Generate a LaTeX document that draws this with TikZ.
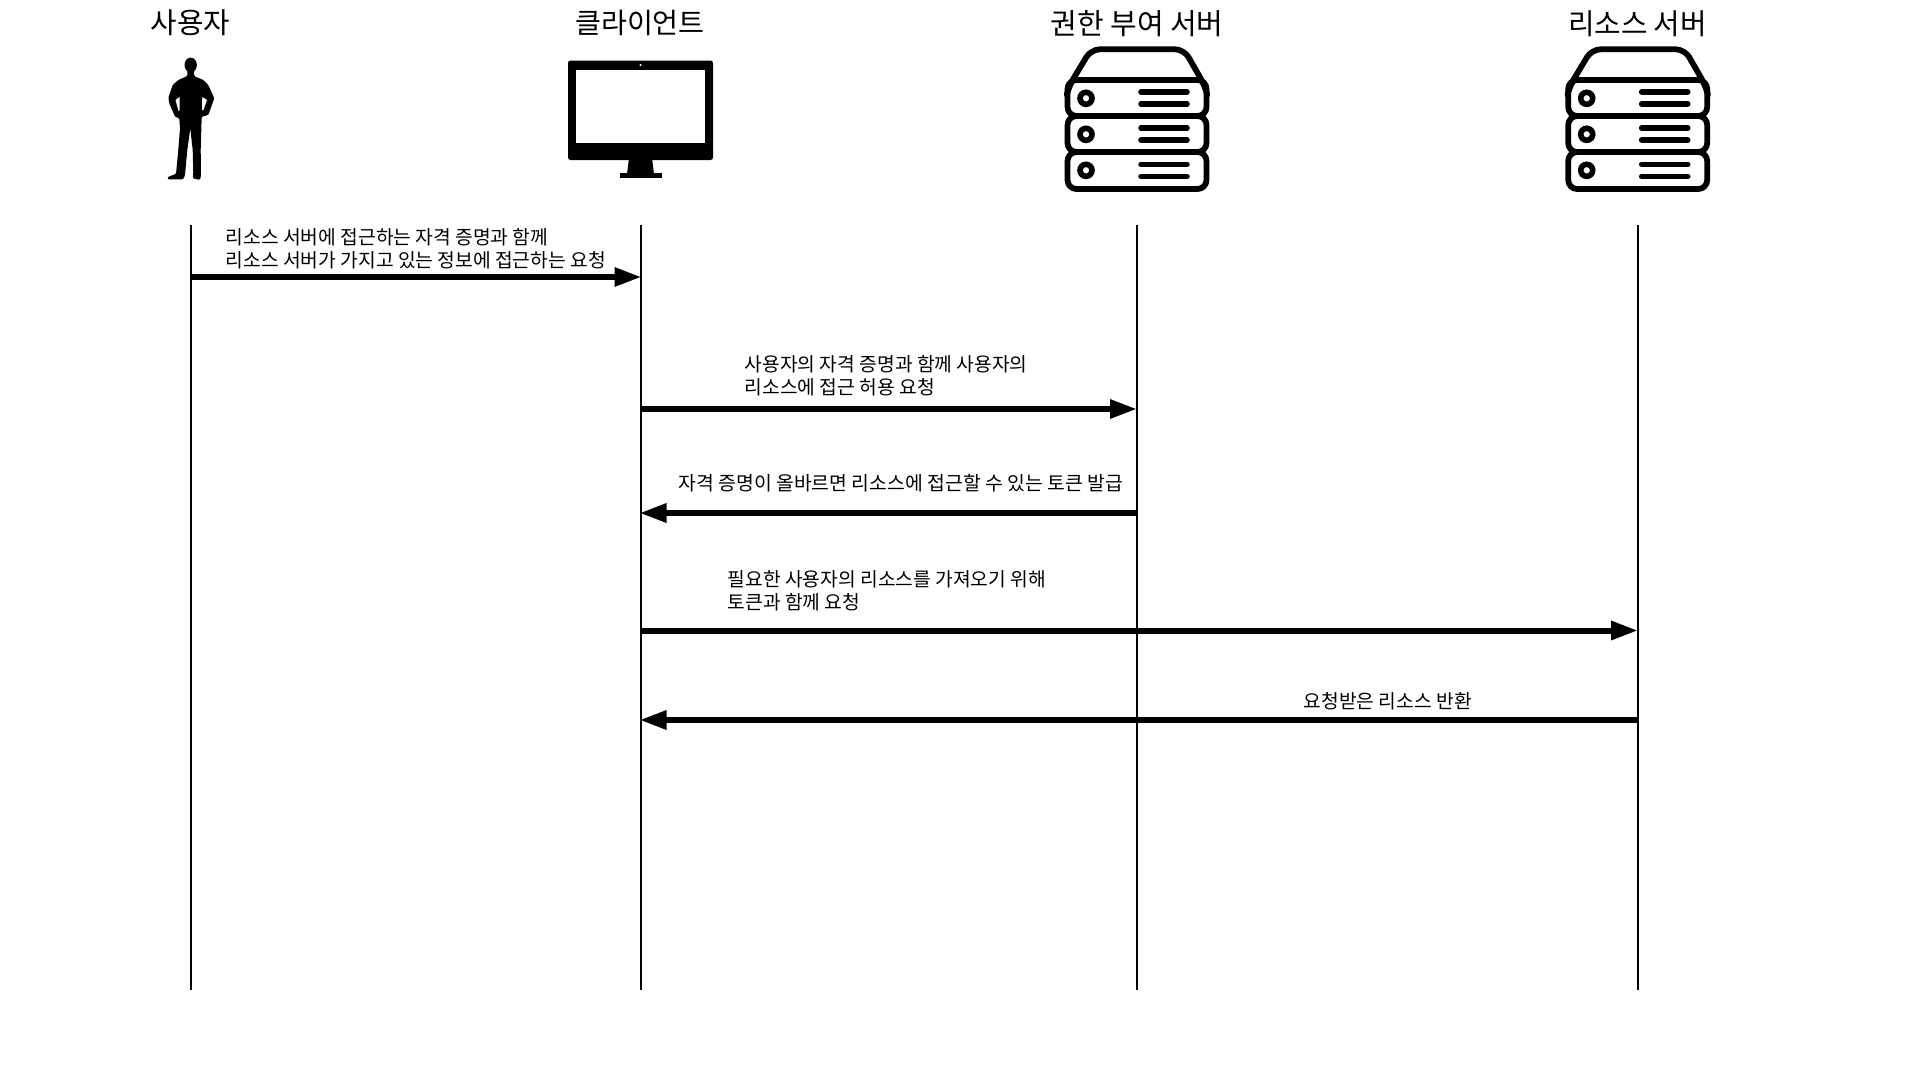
\documentclass[tikz,border=0pt]{standalone}
\usepackage{fontspec}
\setmainfont{Noto Sans CJK KR}
\usetikzlibrary{arrows.meta}
\tikzset{
  lifeline/.style={line width=1.6pt,black},
  msg/.style={line width=6pt,black,-{Triangle[length=27pt,width=18pt]},shorten >=0pt},
  msgtext/.style={anchor=west,align=left,inner sep=0pt,font=\fontsize{19.25pt}{23pt}\selectfont},
  title/.style={anchor=center,inner sep=0pt,font=\fontsize{28.8pt}{32pt}\selectfont},
  srv/.style={line width=5.8pt,black,rounded corners=9pt,line join=round},
  srvbar/.style={line width=5.6pt,black,line cap=round},
}
\newcommand{\srvicon}[1]{%
  \begin{scope}[xshift=#1pt]
    % lid
    \draw[srv] (67.5,92) -- (69,86) -- (91,49.3) -- (184,49.3) -- (205,86) -- (206.5,92);
    % rows
    \foreach \ya/\yb in {80/116,116/152,152/189}{
      \draw[srv] (67.5,\ya) rectangle (206.5,\yb);
    }
    % knobs and bars
    \foreach \yy/\yc in {98.3/91.7,134.3/128,170.3/164.3}{
      \draw[line width=5.6pt] (86,\yy) circle (6pt);
      \draw[srvbar] (141,\yc) -- (187,\yc);
      \draw[srvbar] (141,\yc+12.2) -- (187,\yc+12.2);
    }
  \end{scope}
}
\begin{document}
\begin{tikzpicture}[x=1pt,y=-1pt]
\useasboundingbox (0,0) rectangle (1920,1080);
% titles
\node[title] (t1) at (190.5,23) {사용자};
\node[title,font=\fontsize{28.2pt}{32pt}\selectfont] (t2) at (640,23) {클라이언트};
\node[title,font=\fontsize{29pt}{32pt}\selectfont] (t3) at (1137,24) {권한 부여 서버};
\node[title] (t4) at (1637.5,24) {리소스 서버};
% person
\fill[black] (190.7,65) ellipse (6.2pt and 7.4pt);
\fill[black,rounded corners=1.2pt]
  (187.3,70) -- (187.3,76) -- (178.3,80) -- (172.7,85) -- (168.3,97.7) -- (169.3,103.3)
  -- (175,116.7) -- (179.3,118.3) -- (180,128.3) -- (178.3,150) -- (176,174) -- (168.3,176.7)
  -- (167.3,179.3) -- (183.3,179.3) -- (185,175) -- (187.3,150) -- (190.3,128.3) -- (192.7,150)
  -- (193.3,173.3) -- (192.7,178.3) -- (200,180) -- (201,175) -- (200.7,150) -- (201.7,116.7)
  -- (208.3,115) -- (214.3,98.3) -- (208.3,85) -- (203.3,80) -- (194,76) -- (194,70) -- cycle;
\fill[white] (179.5,97) -- (175.5,100) -- (178.5,111) -- (179.7,110) -- cycle;
\fill[white] (202.3,97) -- (207,100) -- (203.5,110) -- (202,110) -- cycle;
% monitor
\fill[black,rounded corners=2.5pt] (568,60.5) rectangle (713,160);
\fill[white] (576.3,70.3) rectangle (705,143);
\fill[white] (640.5,65) circle (1.2pt);
\fill[black] (629,158) -- (652,158) -- (654,174) -- (627,174) -- cycle;
\fill[black] (620,173) rectangle (662,178);
% servers
\srvicon{1000}
\srvicon{1500.7}
% lifelines
\coordinate (a0) at (191,225); \coordinate (a1) at (191,990);
\coordinate (b0) at (640.8,225); \coordinate (b1) at (640.8,990);
\coordinate (c0) at (1137,225); \coordinate (c1) at (1137,990);
\coordinate (d0) at (1638,225); \coordinate (d1) at (1638,990);
\draw[lifeline] (a0) -- (a1);
\draw[lifeline] (b0) -- (b1);
\draw[lifeline] (c0) -- (c1);
\draw[lifeline] (d0) -- (d1);
% message ends
\coordinate (m1a) at (191,277); \coordinate (m1b) at (641.5,277);
\coordinate (m2a) at (640.8,409); \coordinate (m2b) at (1137,409);
\coordinate (m3a) at (1137,513); \coordinate (m3b) at (639.5,513);
\coordinate (m4a) at (640.8,630.5); \coordinate (m4b) at (1638,630.5);
\coordinate (m5a) at (1638,720); \coordinate (m5b) at (639.5,720);
\draw[msg] (m1a) -- (m1b);
\draw[msg] (m2a) -- (m2b);
\draw[msg] (m3a) -- (m3b);
\draw[msg] (m4a) -- (m4b);
\draw[msg] (m5a) -- (m5b);
% labels
\node[msgtext] (l1) at (225.5,249) {리소스 서버에 접근하는 자격 증명과 함께\\리소스 서버가 가지고 있는 정보에 접근하는 요청};
\node[msgtext] (l2) at (744.5,376) {사용자의 자격 증명과 함께 사용자의\\리소스에 접근 허용 요청};
\node[msgtext,font=\fontsize{19.35pt}{23pt}\selectfont] (l3) at (678.5,483.5) {자격 증명이 올바르면 리소스에 접근할 수 있는 토큰 발급};
\node[msgtext] (l4) at (727.5,591) {필요한 사용자의 리소스를 가져오기 위해\\토큰과 함께 요청};
\node[msgtext] (l5) at (1303.5,701) {요청받은 리소스 반환};
\end{tikzpicture}
\end{document}
